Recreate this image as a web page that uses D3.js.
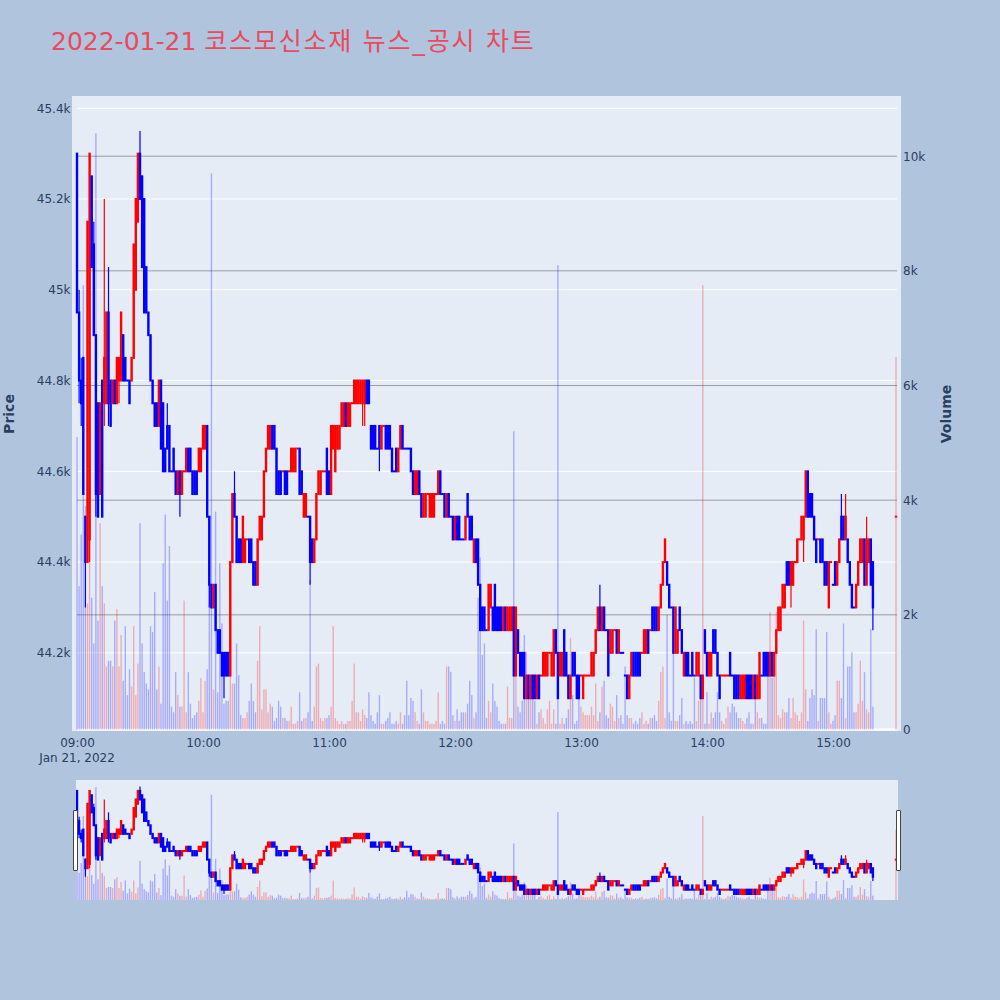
<!DOCTYPE html>
<html>
<head>
<meta charset="utf-8">
<script src="https://cdn.jsdelivr.net/npm/d3@7"></script>
<style>
  body { margin: 0; background: #b0c4de; }
  svg { display: block; font-family: "DejaVu Sans", "Noto Sans CJK KR", sans-serif; }
</style>
</head>
<body>
<div id="chart"></div>
<script>
var titleDate = "2022-01-21";
var titleText = "코스모신소재 뉴스_공시 차트";
var sessionDay = "2022-01-21";
var firstBarTime = "09:00";   // one bar per minute from here
var auctionTime = "15:30";    // the last bar (closing auction)

var open = [
  45300,44950,44800,44850,44500,44400,44450,45250,45100,44900,
  44750,44550,44800,44750,44750,44950,44800,44750,44800,44750,
  44800,44800,44900,44850,44800,44800,44800,44850,45000,45150,
  45300,45250,45200,45050,44950,44900,44800,44750,44750,44700,
  44800,44750,44650,44700,44700,44600,44650,44600,44550,44600,
  44550,44600,44600,44650,44650,44600,44600,44600,44600,44600,
  44650,44650,44700,44500,44350,44300,44350,44250,44250,44200,
  44200,44200,44200,44150,44400,44550,44500,44450,44450,44400,
  44400,44450,44450,44450,44400,44400,44350,44450,44450,44500,
  44600,44650,44650,44700,44700,44650,44600,44600,44600,44600,
  44600,44600,44600,44600,44600,44650,44650,44600,44500,44500,
  44500,44500,44450,44400,44450,44550,44550,44600,44600,44650,
  44600,44550,44650,44600,44650,44650,44700,44700,44750,44700,
  44700,44750,44750,44750,44750,44750,44750,44750,44800,44800,
  44700,44700,44700,44650,44700,44650,44700,44700,44700,44700,
  44650,44600,44650,44600,44650,44700,44650,44650,44650,44650,
  44600,44550,44550,44600,44550,44500,44500,44550,44500,44500,
  44500,44550,44550,44600,44550,44550,44500,44550,44500,44500,
  44450,44500,44500,44450,44450,44450,44550,44500,44500,44400,
  44450,44450,44350,44300,44300,44250,44250,44300,44300,44350,
  44300,44300,44300,44250,44300,44250,44250,44250,44300,44150,
  44250,44200,44200,44200,44100,44150,44100,44150,44150,44100,
  44150,44150,44150,44150,44150,44200,44150,44150,44250,44200,
  44150,44150,44250,44200,44150,44100,44200,44200,44150,44150,
  44150,44100,44150,44150,44150,44150,44150,44200,44250,44300,
  44250,44300,44250,44250,44200,44200,44250,44250,44200,44200,
  44200,44150,44150,44100,44150,44200,44200,44200,44200,44200,
  44200,44200,44250,44250,44300,44300,44300,44250,44300,44350,
  44400,44400,44350,44300,44300,44200,44200,44300,44250,44150,
  44200,44200,44150,44200,44150,44150,44150,44150,44100,44250,
  44200,44150,44150,44250,44250,44200,44150,44150,44150,44150,
  44150,44200,44150,44150,44150,44150,44100,44100,44100,44150,
  44150,44150,44100,44150,44100,44100,44150,44200,44200,44200,
  44150,44200,44150,44200,44250,44250,44300,44300,44400,44400,
  44350,44350,44400,44400,44450,44450,44450,44500,44600,44550,
  44550,44500,44450,44450,44450,44450,44400,44400,44300,44400,
  44350,44400,44350,44400,44500,44500,44450,44450,44400,44350,
  44300,44300,44350,44400,44400,44450,44350,44400,44450,44400,
  44500
];
var high = [
  45300,45000,44850,44850,44500,45150,45300,45250,45150,44900,
  44750,44750,44800,45200,44950,45050,44800,44800,44800,44850,
  44850,44950,44900,44850,44800,44800,44850,45100,45200,45300,
  45350,45250,45200,45050,44950,44900,44800,44750,44750,44800,
  44800,44750,44650,44750,44700,44600,44650,44600,44600,44600,
  44600,44600,44650,44650,44650,44600,44600,44600,44650,44650,
  44700,44700,44700,44500,44350,44350,44350,44250,44250,44200,
  44200,44200,44200,44400,44550,44600,44500,44450,44450,44500,
  44450,44450,44450,44450,44400,44400,44450,44500,44500,44600,
  44650,44700,44700,44700,44700,44650,44600,44600,44600,44600,
  44600,44600,44650,44650,44650,44650,44650,44600,44550,44550,
  44500,44500,44450,44450,44550,44600,44600,44600,44600,44650,
  44600,44700,44700,44700,44700,44700,44750,44750,44750,44750,
  44750,44750,44800,44800,44800,44800,44800,44800,44800,44800,
  44700,44700,44700,44650,44700,44700,44700,44700,44700,44700,
  44650,44600,44650,44650,44700,44700,44650,44650,44650,44650,
  44600,44600,44600,44600,44550,44550,44550,44550,44550,44550,
  44550,44550,44600,44600,44550,44550,44550,44550,44500,44500,
  44500,44500,44500,44450,44450,44500,44550,44500,44500,44450,
  44450,44450,44350,44300,44300,44250,44350,44350,44300,44350,
  44300,44300,44300,44300,44300,44300,44300,44300,44300,44300,
  44250,44200,44200,44200,44150,44150,44150,44150,44150,44150,
  44150,44150,44200,44200,44200,44200,44200,44250,44250,44200,
  44200,44200,44250,44200,44150,44150,44200,44200,44150,44150,
  44150,44150,44150,44150,44150,44200,44200,44250,44300,44350,
  44300,44300,44250,44250,44250,44250,44250,44250,44250,44200,
  44200,44150,44150,44150,44200,44200,44200,44200,44200,44200,
  44250,44250,44250,44250,44300,44300,44300,44300,44350,44400,
  44450,44400,44350,44300,44300,44300,44250,44300,44250,44200,
  44200,44200,44150,44200,44150,44200,44200,44150,44150,44250,
  44200,44200,44200,44250,44250,44200,44150,44150,44150,44150,
  44150,44200,44150,44150,44150,44150,44150,44150,44150,44150,
  44150,44150,44150,44150,44150,44200,44150,44200,44200,44200,
  44200,44200,44200,44250,44300,44300,44350,44350,44400,44400,
  44400,44400,44400,44450,44450,44500,44500,44600,44600,44550,
  44550,44500,44450,44450,44450,44450,44400,44400,44400,44400,
  44350,44400,44400,44450,44550,44500,44550,44450,44400,44350,
  44300,44350,44400,44450,44450,44450,44500,44450,44450,44400,
  44500
];
var low = [
  44950,44750,44700,44550,44300,44400,44400,45050,44900,44500,
  44500,44550,44500,44700,44750,44700,44700,44750,44750,44750,
  44750,44800,44800,44800,44800,44750,44800,44850,45000,45150,
  45200,45050,44950,44950,44900,44800,44750,44700,44700,44700,
  44650,44600,44600,44650,44600,44600,44600,44550,44550,44500,
  44550,44600,44600,44600,44600,44550,44550,44550,44600,44600,
  44650,44650,44500,44300,44300,44300,44250,44200,44200,44150,
  44100,44150,44150,44150,44400,44500,44400,44400,44400,44400,
  44400,44450,44400,44400,44350,44350,44350,44450,44450,44500,
  44600,44650,44650,44650,44650,44550,44550,44550,44600,44550,
  44550,44600,44600,44600,44600,44650,44550,44550,44500,44500,
  44500,44350,44400,44400,44450,44550,44550,44600,44600,44550,
  44550,44550,44650,44600,44650,44650,44700,44700,44700,44700,
  44700,44750,44750,44750,44750,44750,44700,44700,44750,44750,
  44650,44650,44650,44650,44600,44650,44700,44650,44650,44650,
  44600,44600,44600,44600,44650,44650,44650,44650,44650,44600,
  44550,44550,44550,44550,44500,44500,44500,44550,44500,44500,
  44500,44550,44550,44550,44550,44500,44500,44500,44500,44450,
  44450,44450,44450,44450,44450,44450,44500,44450,44450,44400,
  44400,44350,44250,44250,44250,44250,44250,44300,44250,44250,
  44250,44250,44250,44250,44250,44250,44250,44250,44150,44150,
  44200,44150,44150,44100,44100,44100,44100,44100,44100,44100,
  44100,44150,44150,44150,44150,44200,44150,44150,44200,44100,
  44150,44150,44150,44150,44100,44100,44150,44150,44100,44100,
  44150,44100,44150,44150,44150,44150,44150,44200,44250,44250,
  44250,44250,44250,44150,44200,44200,44250,44200,44200,44200,
  44200,44150,44100,44100,44150,44150,44150,44150,44150,44200,
  44200,44200,44200,44250,44250,44250,44250,44250,44300,44350,
  44400,44350,44300,44300,44200,44200,44200,44250,44200,44150,
  44150,44150,44150,44150,44150,44150,44150,44100,44100,44200,
  44150,44150,44150,44200,44200,44150,44100,44150,44150,44150,
  44150,44150,44150,44100,44100,44100,44100,44100,44100,44100,
  44100,44100,44100,44100,44100,44100,44150,44150,44150,44150,
  44150,44150,44150,44200,44250,44250,44300,44300,44350,44350,
  44300,44350,44400,44400,44450,44450,44400,44500,44500,44500,
  44500,44450,44400,44450,44400,44400,44350,44350,44300,44400,
  44350,44350,44350,44400,44450,44450,44450,44400,44350,44300,
  44300,44300,44350,44400,44400,44350,44350,44400,44350,44250,
  44500
];
var close = [
  44950,44800,44750,44550,44400,45150,45300,45050,44900,44550,
  44500,44750,44500,44850,44950,44750,44700,44800,44750,44850,
  44850,44950,44800,44800,44800,44750,44850,45100,45200,45300,
  45200,45050,44950,44950,44900,44800,44750,44700,44700,44800,
  44650,44600,44600,44650,44600,44600,44600,44550,44600,44550,
  44600,44600,44650,44600,44600,44550,44550,44550,44650,44650,
  44700,44700,44500,44350,44300,44350,44250,44200,44200,44150,
  44150,44150,44150,44400,44550,44500,44400,44400,44400,44500,
  44450,44450,44400,44400,44350,44350,44450,44500,44500,44600,
  44650,44700,44700,44650,44650,44550,44550,44550,44600,44550,
  44550,44600,44650,44650,44650,44650,44550,44550,44550,44550,
  44500,44400,44400,44450,44550,44600,44600,44600,44600,44550,
  44550,44700,44700,44700,44700,44700,44750,44750,44700,44750,
  44750,44750,44800,44800,44800,44800,44800,44800,44750,44750,
  44650,44650,44650,44650,44650,44700,44700,44650,44650,44650,
  44600,44600,44600,44650,44700,44650,44650,44650,44650,44600,
  44550,44600,44600,44550,44500,44550,44550,44550,44550,44550,
  44550,44550,44600,44550,44550,44500,44550,44500,44500,44450,
  44500,44450,44450,44450,44450,44500,44500,44450,44450,44450,
  44400,44350,44250,44250,44250,44250,44350,44350,44250,44250,
  44250,44250,44250,44300,44250,44300,44300,44300,44150,44300,
  44200,44150,44150,44100,44150,44100,44150,44100,44100,44150,
  44100,44150,44200,44200,44200,44200,44200,44250,44200,44100,
  44200,44200,44150,44150,44100,44150,44150,44150,44100,44100,
  44150,44150,44150,44150,44150,44200,44200,44250,44300,44250,
  44300,44250,44250,44150,44250,44250,44250,44200,44250,44200,
  44200,44150,44100,44150,44200,44150,44150,44150,44150,44200,
  44250,44250,44200,44250,44250,44250,44250,44300,44350,44400,
  44450,44350,44300,44300,44200,44300,44250,44250,44200,44200,
  44150,44150,44150,44150,44150,44200,44200,44100,44150,44200,
  44150,44200,44200,44200,44200,44150,44100,44150,44150,44150,
  44150,44150,44150,44100,44100,44100,44150,44150,44150,44100,
  44100,44100,44150,44100,44150,44200,44150,44150,44150,44150,
  44200,44150,44200,44250,44300,44300,44350,44350,44350,44350,
  44400,44400,44400,44450,44450,44500,44500,44600,44500,44500,
  44500,44450,44400,44450,44400,44400,44350,44350,44400,44400,
  44350,44350,44400,44450,44450,44450,44500,44400,44350,44300,
  44300,44350,44400,44450,44450,44350,44450,44450,44350,44300,
  44500
];
var volume = [
  5100,2500,3400,7750,3900,2200,4400,2300,1500,10400,
  1900,3600,2500,2200,1100,1200,1200,1100,1900,2100,
  1100,1650,850,1800,600,1050,750,1800,600,1150,
  3600,1500,1000,800,700,1800,1700,2400,700,1100,
  450,2900,3750,2250,3200,400,300,1000,600,400,
  400,2250,300,1000,450,200,250,300,500,900,
  300,850,1050,3200,9700,700,3800,650,2900,1850,
  450,500,500,950,800,800,1500,950,250,200,
  200,300,500,800,500,300,1200,1800,350,700,
  700,300,450,400,150,200,500,400,200,200,
  150,150,400,100,100,150,650,150,200,200,
  300,2600,150,400,1100,1150,200,150,200,200,
  250,400,1800,200,150,100,150,100,100,150,
  150,500,1150,300,300,150,350,250,200,650,
  250,150,100,300,600,100,100,150,200,300,
  100,100,150,100,300,100,250,850,250,550,
  500,300,150,100,700,300,150,150,100,100,
  100,150,650,100,150,100,1100,1100,1000,250,
  150,350,150,300,300,300,450,850,600,200,
  300,2300,3000,1300,1500,200,500,300,800,500,
  400,150,100,100,100,750,200,200,5200,1350,
  400,300,500,1650,1350,600,700,600,500,100,
  300,350,200,100,350,500,100,350,100,8100,
  100,200,100,200,350,1600,600,100,150,950,
  400,300,250,250,250,400,250,800,150,300,
  750,850,250,200,450,400,150,600,200,250,
  100,1100,250,200,200,100,150,100,200,300,
  100,150,100,200,200,250,150,500,1000,1100,
  200,2000,300,150,2050,150,150,250,550,100,
  150,100,150,100,900,150,500,750,7750,100,
  650,100,300,200,300,650,300,150,100,200,
  400,300,450,400,300,200,200,150,100,200,
  300,100,100,700,300,200,200,100,100,950,
  2050,900,1350,2050,250,200,350,300,300,550,
  200,550,300,250,150,300,1900,700,150,550,
  700,600,1750,150,550,550,550,1700,300,100,
  150,250,850,850,550,1850,200,1100,1100,1350,
  300,300,450,1200,500,1000,350,300,1750,400,
  6500
];

var priceTicks = [44200, 44400, 44600, 44800, 45000, 45200, 45400];
var volumeTicks = [0, 2000, 4000, 6000, 8000, 10000];
var timeTicks = ["09:00", "10:00", "11:00", "12:00", "13:00", "14:00", "15:00"];

var upColor = "#ff0000", downColor = "#0000ff";
var textColor = "#2a3f5f";

// join the arrays into bars
var parseTime = d3.timeParse("%Y-%m-%d %H:%M");
var start = parseTime(sessionDay + " " + firstBarTime);
var bars = open.map(function (o, i) {
    var t = i < open.length - 1 ? d3.timeMinute.offset(start, i)
                                : parseTime(sessionDay + " " + auctionTime);
    return { time: t, open: o, high: high[i], low: low[i], close: close[i], volume: volume[i] };
});
bars.forEach(function (d, i) {
    var prev = bars[i - 1];
    if (d.close > d.open) d.up = true;
    else if (d.close < d.open) d.up = false;
    else if (!prev) d.up = true;
    else d.up = d.close > prev.close ? true : d.close < prev.close ? false : prev.up;
});

var width = 1000, height = 1000;
var plot = { left: 72, right: 901, top: 96, bottom: 731 };
var slider = { left: 76, right: 898, top: 780, bottom: 900 };

var svg = d3.select("#chart").append("svg")
    .attr("width", width)
    .attr("height", height);

svg.append("rect").attr("width", width).attr("height", height).attr("fill", "#b0c4de");

// title (the Korean part is set a little wider)
var title = svg.append("text")
    .attr("x", 51)
    .attr("y", 50)
    .attr("font-size", 25)
    .attr("fill", "#e94a5e");
title.append("tspan").text(titleDate + " ");
title.append("tspan").attr("letter-spacing", 1.8).text(titleText);

// scales
var x = d3.scaleTime()
    .domain([start, parseTime(sessionDay + " " + auctionTime)])
    .range([77, 896]);
var yPrice = d3.scaleLinear().domain([44030, 45427]).range([730, plot.top]);
var yVol = d3.scaleLinear().domain([0, 11050]).range([729.5, plot.top]);
var yPriceS = d3.scaleLinear().domain([44030, 45427]).range([slider.bottom, slider.top]);
var yVolS = d3.scaleLinear().domain([0, 11050]).range([slider.bottom, slider.top]);

// plot background
svg.append("rect")
    .attr("x", plot.left).attr("y", plot.top)
    .attr("width", plot.right - plot.left).attr("height", plot.bottom - plot.top)
    .attr("fill", "#e5ecf6");

// price grid (white) and volume grid (grey)
svg.append("g").selectAll("line")
    .data(priceTicks).enter().append("line")
    .attr("x1", 77).attr("x2", 897)
    .attr("y1", function (d) { return yPrice(d); })
    .attr("y2", function (d) { return yPrice(d); })
    .attr("stroke", "#fff").attr("stroke-width", 1);
svg.append("g").selectAll("line")
    .data(volumeTicks.slice(1)).enter().append("line")
    .attr("x1", 77).attr("x2", 897)
    .attr("y1", function (d) { return yVol(d); })
    .attr("y2", function (d) { return yVol(d); })
    .attr("stroke", "#9c9c9c").attr("stroke-width", 1);
svg.append("line")
    .attr("x1", 77).attr("x2", 897)
    .attr("y1", yVol(0)).attr("y2", yVol(0))
    .attr("stroke", "#fff").attr("stroke-width", 2);

function drawSeries(g, yP, yV) {
    // volume bars
    g.append("g").selectAll("rect")
        .data(bars).enter().append("rect")
        .attr("x", function (d) { return x(d.time) - 0.7; })
        .attr("width", 1.4)
        .attr("y", function (d) { return yV(d.volume); })
        .attr("height", function (d) { return yV(0) - yV(d.volume); })
        .attr("fill", function (d) { return d.up ? upColor : downColor; })
        .attr("fill-opacity", 0.27);

    // candles
    var c = g.append("g").selectAll("g")
        .data(bars).enter().append("g")
        .attr("fill", function (d) { return d.up ? upColor : downColor; })
        .attr("stroke", function (d) { return d.up ? upColor : downColor; });
    c.append("line")
        .attr("x1", function (d) { return x(d.time); })
        .attr("x2", function (d) { return x(d.time); })
        .attr("y1", function (d) { return yP(d.high); })
        .attr("y2", function (d) { return yP(d.low); })
        .attr("stroke-width", 1.2);
    c.append("rect")
        .attr("x", function (d) { return x(d.time) - 1.2; })
        .attr("width", 2.4)
        .attr("y", function (d) { return yP(Math.max(d.open, d.close)) - 1; })
        .attr("height", function (d) { return Math.abs(yP(d.open) - yP(d.close)) + 2; })
        .attr("stroke", "none");
}

drawSeries(svg.append("g"), yPrice, yVol);

// left price axis
var yAxis = svg.append("g")
    .attr("transform", "translate(" + plot.left + ",0)")
    .call(d3.axisLeft(yPrice).tickValues(priceTicks).tickSize(0).tickPadding(1.5).tickFormat(d3.format("~s")));
yAxis.select(".domain").remove();
yAxis.selectAll("text").attr("font-size", 12).attr("fill", textColor).attr("font-family", "DejaVu Sans");

// right volume axis
var y2Axis = svg.append("g")
    .attr("transform", "translate(" + plot.right + ",0)")
    .call(d3.axisRight(yVol).tickValues(volumeTicks).tickSize(0).tickPadding(2).tickFormat(d3.format("~s")));
y2Axis.select(".domain").remove();
y2Axis.selectAll("text").attr("font-size", 12).attr("fill", textColor).attr("font-family", "DejaVu Sans");

// time axis
var xAxis = svg.append("g")
    .attr("transform", "translate(0," + plot.bottom + ")")
    .call(d3.axisBottom(x)
        .tickValues(timeTicks.map(function (t) { return parseTime(sessionDay + " " + t); }))
        .tickSize(0).tickPadding(7)
        .tickFormat(d3.timeFormat("%H:%M")));
xAxis.select(".domain").remove();
xAxis.selectAll("text").attr("font-size", 12).attr("fill", textColor).attr("font-family", "DejaVu Sans");
svg.append("text")
    .attr("x", x(start)).attr("y", 761.5)
    .attr("text-anchor", "middle")
    .attr("font-size", 12).attr("fill", textColor)
    .text(d3.timeFormat("%b %-d, %Y")(start));

// axis titles
svg.append("text")
    .attr("transform", "translate(14,414) rotate(-90)")
    .attr("text-anchor", "middle")
    .attr("font-size", 14).attr("font-weight", "bold").attr("fill", textColor)
    .text("Price");
svg.append("text")
    .attr("transform", "translate(951,414) rotate(-90)")
    .attr("text-anchor", "middle")
    .attr("font-size", 14).attr("font-weight", "bold").attr("fill", textColor)
    .text("Volume");

// range slider
svg.append("clipPath").attr("id", "sliderClip")
    .append("rect")
    .attr("x", slider.left).attr("y", slider.top)
    .attr("width", slider.right - slider.left).attr("height", slider.bottom - slider.top);
svg.append("rect")
    .attr("x", slider.left).attr("y", slider.top)
    .attr("width", slider.right - slider.left).attr("height", slider.bottom - slider.top)
    .attr("fill", "#e5ecf6");
drawSeries(svg.append("g").attr("clip-path", "url(#sliderClip)"), yPriceS, yVolS);

// slider handles
[slider.left - 2.5, slider.right - 1.5].forEach(function (hx) {
    svg.append("rect")
        .attr("x", hx).attr("y", 810.5)
        .attr("width", 4).attr("height", 60)
        .attr("fill", "#fff").attr("stroke", "#444").attr("stroke-width", 1)
        .attr("rx", 0.5);
});
</script>
</body>
</html>
